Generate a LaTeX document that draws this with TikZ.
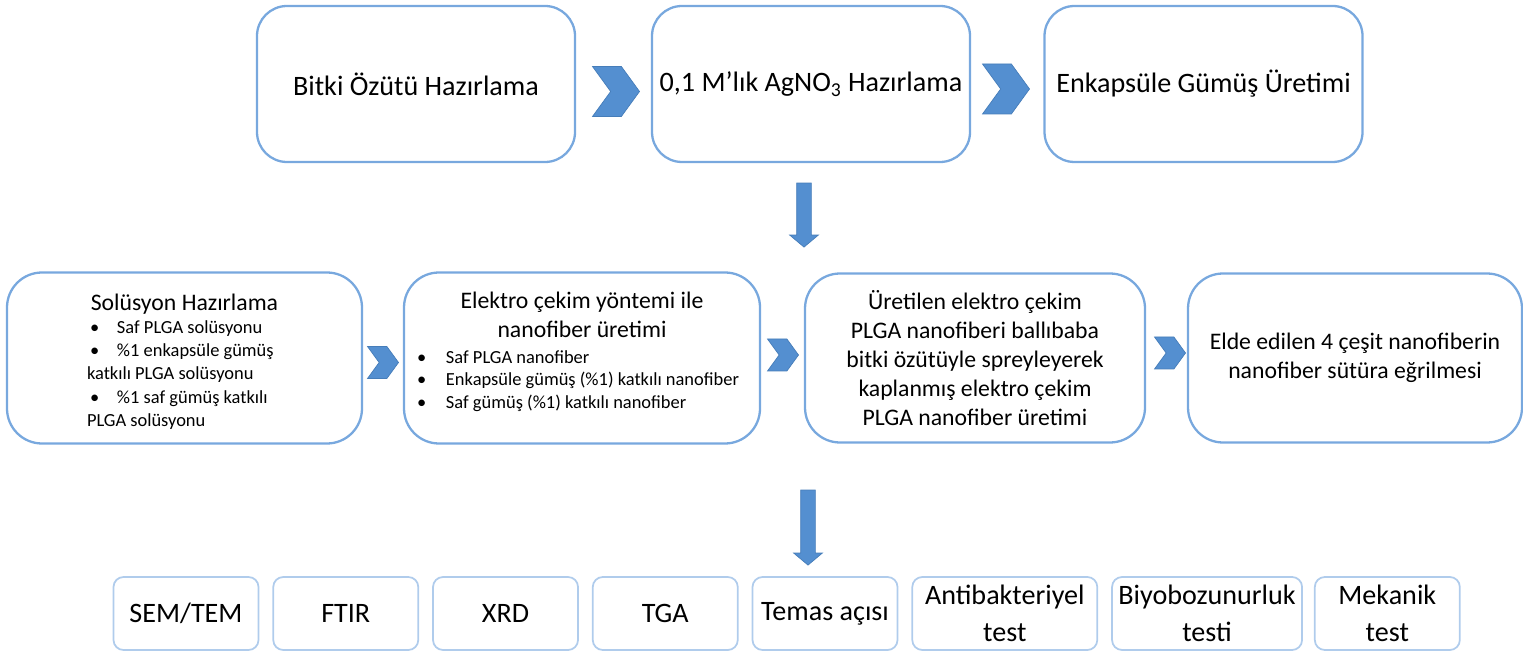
\documentclass[tikz,border=0pt]{standalone}
\usepackage{fontspec}
\setmainfont{Carlito}
\usetikzlibrary{positioning,shapes.symbols,shapes.arrows}

\definecolor{boxline}{RGB}{120,168,222}
\definecolor{testline}{RGB}{176,204,236}
\definecolor{chevblue}{RGB}{84,143,208}
\definecolor{chevedge}{RGB}{70,125,185}

\begin{document}
\begin{tikzpicture}[
    topbox/.style = {draw=boxline, line width=1.3pt, rounded corners=0.6cm, minimum width=6.36cm, minimum height=3.12cm, align=center, font=\fontsize{16}{19}\selectfont},
    midbox/.style = {draw=boxline, line width=1.3pt, rounded corners=0.7cm, minimum height=3.42cm, align=center, font=\fontsize{13.5}{16.5}\selectfont},
    testbox/.style = {draw=testline, line width=1pt, rounded corners=0.2cm, minimum width=2.9cm, minimum height=1.46cm, inner sep=2pt, align=center, font=\fontsize{16}{21}\selectfont},
    chev/.style = {signal, signal from=west, signal to=east, signal pointer angle=108, fill=chevblue, draw=chevedge, line width=0.4pt, inner sep=0pt},
    bigchev/.style = {chev, minimum width=0.94cm, minimum height=1cm},
    smallchev/.style = {chev, minimum width=0.62cm, minimum height=0.64cm},
    downarrow/.style = {single arrow, shape border rotate=270, fill=chevblue, draw=chevedge, line width=0.4pt, inner sep=0.14cm, minimum width=0.56cm, single arrow head extend=0.14cm, single arrow tip angle=100},
    node distance=7.9cm]

\useasboundingbox (0,0) rectangle (30.46,-13.06);

% first row
\node[topbox] (bitki) at (8.32,-1.68) {Bitki Özütü Hazırlama};
\node[topbox] (agno) [right of=bitki] {0,1 M’lık AgNO\textsubscript{3} Hazırlama};
\node[topbox] (enkap) [right of=agno, node distance=7.85cm] {Enkapsüle Gümüş Üretimi};
\node[bigchev] (ok1) [right of=bitki, node distance=4cm, yshift=-0.15cm] {};
\node[bigchev] (ok2) [right of=agno, node distance=3.9cm, yshift=-0.1cm] {};

\node[downarrow, minimum height=1.28cm] (in1) [below of=agno, node distance=2.56cm, xshift=-0.14cm] {};

% second row
\node[midbox, minimum width=7.1cm] (sol) at (3.69,-7.16) {\parbox{3.9cm}{\vspace*{4pt}\centering
    Solüsyon Hazırlama\par
    \raggedright\fontsize{10.5}{13.2}\selectfont
    \hspace*{0.06cm}\makebox[0.54cm][l]{•}Saf PLGA solüsyonu\\
    \hspace*{0.06cm}\makebox[0.54cm][l]{•}\%1 enkapsüle gümüş\\
    katkılı PLGA solüsyonu\\
    \hspace*{0.06cm}\makebox[0.54cm][l]{•}\%1 saf gümüş katkılı\\
    PLGA solüsyonu\par}};
\node[midbox, minimum width=7.12cm] (elek) [right of=sol, node distance=7.95cm] {\parbox{6.6cm}{\centering
    Elektro çekim yöntemi ile\\ nanofiber üretimi\par
    \vspace{1.5pt}
    \raggedright\fontsize{10.5}{12.8}\selectfont
    \makebox[0.58cm][l]{•}Saf PLGA nanofiber\\
    \makebox[0.58cm][l]{•}Enkapsüle gümüş (\%1) katkılı nanofiber\\
    \makebox[0.58cm][l]{•}Saf gümüş (\%1) katkılı nanofiber\par
    \vspace*{7pt}}};
\node[midbox, minimum width=6.8cm, minimum height=3.38cm] (kapl) [right of=elek, node distance=7.86cm] {Üretilen elektro çekim\\ PLGA nanofiberi ballıbaba\\ bitki özütüyle spreyleyerek\\ kaplanmış elektro çekim\\ PLGA nanofiber üretimi};
\node[midbox, minimum width=6.68cm, minimum height=3.38cm] (sutur) [right of=kapl, node distance=7.6cm] {Elde edilen 4 çeşit nanofiberin\\ nanofiber sütüra eğrilmesi};
\node[smallchev] (ok3) [right of=sol, node distance=3.97cm, yshift=-0.09cm] {};
\node[smallchev] (ok4) [right of=elek, node distance=4.02cm, yshift=0.06cm] {};
\node[smallchev] (ok5) [right of=kapl, node distance=3.9cm, yshift=0.1cm] {};

\node[downarrow, minimum height=1.5cm] (in2) [below of=elek, node distance=3.33cm, xshift=4.52cm] {};

% tests
\node[testbox] (sem) at (3.72,-12.27) {SEM/TEM};
\node[testbox] (ftir) [right=0.26cm of sem] {FTIR};
\node[testbox] (xrd) [right=0.26cm of ftir] {XRD};
\node[testbox] (tga) [right=0.26cm of xrd] {TGA};
\node[testbox] (temas) [right=0.26cm of tga] {Temas açısı};
\node[testbox, minimum width=3.7cm] (anti) [right=0.26cm of temas] {Antibakteriyel\\ test};
\node[testbox, minimum width=3.8cm] (biyo) [right=0.26cm of anti] {Biyobozunurluk\\ testi};
\node[testbox] (mek) [right=0.22cm of biyo] {Mekanik\\ test};
\end{tikzpicture}
\end{document}
